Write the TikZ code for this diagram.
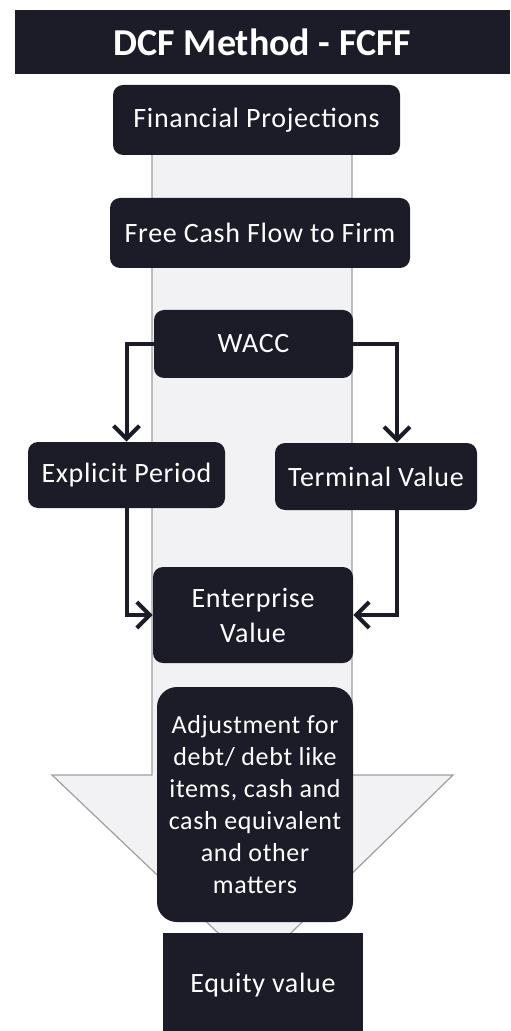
\documentclass[tikz,border=0pt]{standalone}
\usepackage{fontspec}
\setmainfont{Carlito}
\newfontfamily\boxfont[LetterSpace=2.5]{Carlito}
\usetikzlibrary{arrows.meta}
\definecolor{boxnavy}{RGB}{28,28,40}
\definecolor{bandgray}{RGB}{242,242,244}

\begin{document}
\begin{tikzpicture}[x=0.5pt, y=-0.5pt,
    darkbox/.style={fill=boxnavy, text=white, rounded corners=5pt,
      inner sep=2pt, align=center,
      font=\boxfont\fontsize{14}{17.5}\selectfont},
    flowarrow/.style={draw=boxnavy, line width=2pt,
      -{Straight Barb[length=6.5pt,width=13pt]}}]
  \useasboundingbox (0,0) rectangle (510,1031);
  % Background arrow (band with head)
  \draw[gray!75, fill=bandgray, line width=0.6pt]
    (152,100) -- (352,100) -- (352,775) -- (453,775) -- (255,968)
    -- (52,775) -- (152,775) -- cycle;
  % Title bar
  \node[fill=boxnavy, text=white, minimum width=247.5pt, minimum height=32pt,
        font=\bfseries\fontsize{19}{21}\selectfont] (title) at (262.5,42)
    {DCF Method - FCFF};
  % Main steps
  \node[darkbox, minimum width=143.5pt, minimum height=35pt] (proj) at (256.5,120)
    {Financial Projections};
  \node[darkbox, minimum width=150pt, minimum height=35pt] (fcff) at (260,233)
    {Free Cash Flow to Firm};
  \node[darkbox, minimum width=99.5pt, minimum height=34pt] (wacc) at (253.5,344)
    {WACC};
  % Two branches
  \node[darkbox, minimum width=98.5pt, minimum height=33pt] (expl) at (126.5,475)
    {Explicit Period};
  \node[darkbox, minimum width=101pt, minimum height=33.5pt] (term) at (376,476.5)
    {Terminal Value};
  \node[darkbox, minimum width=100pt, minimum height=48pt] (ent) at (253,615)
    {Enterprise\\Value};
  % Adjustments and result
  \node[darkbox, rounded corners=10pt, minimum width=98pt, minimum height=117.5pt,
        font=\boxfont\fontsize{13}{16}\selectfont] (adj) at (255,804.5)
    {Adjustment for\\debt/ debt like\\items, cash and\\cash equivalent\\and other\\matters};
  \node[darkbox, rounded corners=0pt, minimum width=100pt, minimum height=52pt]
    (equity) at (263,985) {Equity value};
  % Connectors
  \draw[flowarrow] (wacc.west) -| (expl.north);
  \draw[flowarrow] (wacc.east) -| ([xshift=10.5pt]term.north);
  \draw[flowarrow] (expl.south) |- (ent.west);
  \draw[flowarrow] ([xshift=10.5pt]term.south) |- (ent.east);
\end{tikzpicture}
\end{document}
